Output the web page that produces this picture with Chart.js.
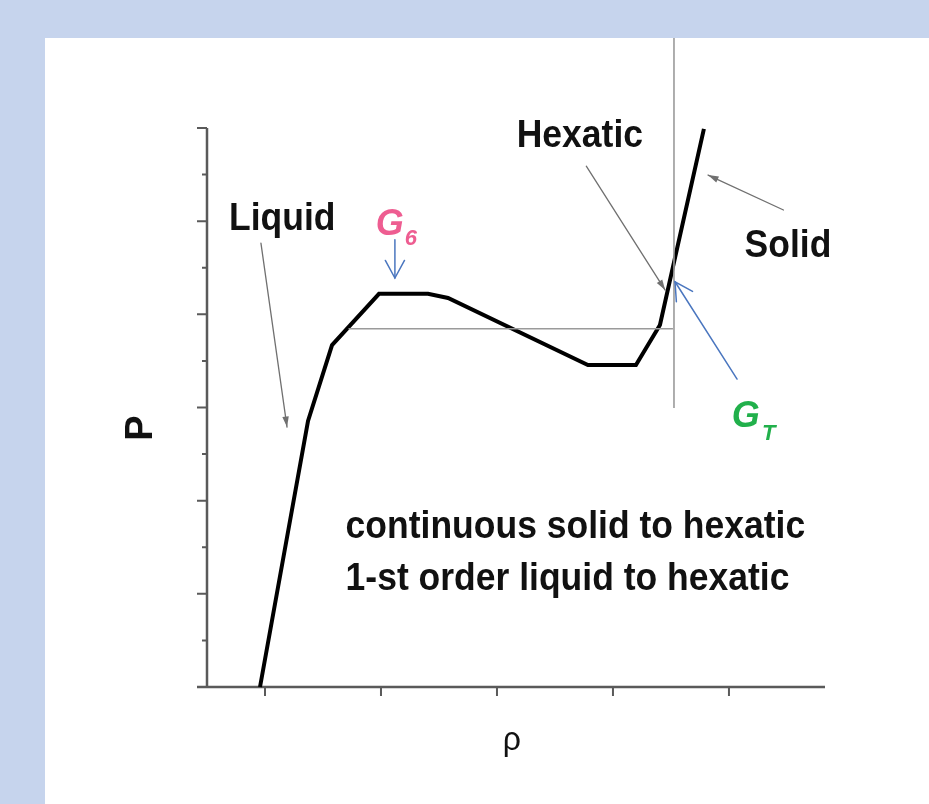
<!DOCTYPE html>
<html>
<head>
<meta charset="utf-8">
<script src="https://cdn.jsdelivr.net/npm/chart.js@4/dist/chart.umd.min.js"></script>
<style>
  html, body { margin: 0; padding: 0; background: #c6d4ed; }
  canvas { display: block; }
</style>
</head>
<body>
<canvas id="c" width="929" height="804"></canvas>
<script>
// Pressure vs density isotherm (arbitrary units)
const rhoValues = [4.57, 8.71, 10.78, 14.83, 19.05, 20.78, 32.84, 36.98, 39.05, 42.84];
const pValues   = [0.00, 5.71, 7.34, 8.44, 8.44, 8.35, 6.91, 6.91, 7.77, 11.98];

// Maxwell-type coexistence line and the transition density marker
const tieRho = [12.2, 40.17];
const tieP   = [7.69, 7.69];
const markRho = [40.26, 40.26];
const markP   = [5.99, 13.93];

// Axis tick values
const rhoTicks = [5, 15, 25, 35, 45];
const pTicks = [0, 1, 2, 3, 4, 5, 6, 7, 8, 9, 10, 11, 12];

const toPts = (xs, ys) => xs.map((x, i) => ({ x: x, y: ys[i] }));

function arrow(ctx, x1, y1, x2, y2, o) {
  const a = Math.atan2(y2 - y1, x2 - x1);
  ctx.save();
  ctx.strokeStyle = o.color;
  ctx.fillStyle = o.color;
  ctx.lineWidth = o.width;
  ctx.lineCap = 'round';
  ctx.beginPath();
  ctx.moveTo(x1, y1);
  ctx.lineTo(x2, y2);
  ctx.stroke();
  const L = o.len, h = o.ang;
  const ax = x2 - L * Math.cos(a - h), ay = y2 - L * Math.sin(a - h);
  const bx = x2 - L * Math.cos(a + h), by = y2 - L * Math.sin(a + h);
  ctx.beginPath();
  if (o.filled) {
    ctx.moveTo(x2, y2); ctx.lineTo(ax, ay); ctx.lineTo(bx, by); ctx.closePath(); ctx.fill();
  } else {
    ctx.moveTo(ax, ay); ctx.lineTo(x2, y2); ctx.lineTo(bx, by); ctx.stroke();
  }
  ctx.restore();
}

function text(ctx, str, x, y, font, color, sy) {
  ctx.save();
  ctx.translate(x, y);
  ctx.scale(1, sy || 1.08);
  ctx.font = font;
  ctx.fillStyle = color;
  ctx.textAlign = 'left';
  ctx.textBaseline = 'alphabetic';
  ctx.fillText(str, 0, 0);
  ctx.restore();
}

const framePlugin = {
  id: 'frame',
  beforeDraw(chart) {
    const ctx = chart.ctx;
    ctx.save();
    ctx.fillStyle = '#c6d4ed';
    ctx.fillRect(0, 0, chart.width, chart.height);
    ctx.fillStyle = '#ffffff';
    ctx.fillRect(45, 38, chart.width - 45, chart.height - 38);
    ctx.restore();
  },
  beforeDatasetsDraw(chart) {
    const ctx = chart.ctx, xs = chart.scales.x, ys = chart.scales.y;
    const x0 = xs.getPixelForValue(0), y0 = ys.getPixelForValue(0);
    const yTop = ys.getPixelForValue(12), xEnd = xs.getPixelForValue(xs.max);
    ctx.save();
    ctx.strokeStyle = '#5a5a5a';
    ctx.lineWidth = 2.5;
    ctx.beginPath();
    ctx.moveTo(x0, yTop); ctx.lineTo(x0, y0);
    ctx.moveTo(x0 - 10, y0); ctx.lineTo(xEnd, y0);
    ctx.stroke();
    ctx.lineWidth = 2;
    ctx.beginPath();
    pTicks.forEach(v => {
      const py = ys.getPixelForValue(v);
      const len = v % 2 === 0 ? 10 : 5;
      ctx.moveTo(x0 - len, py); ctx.lineTo(x0, py);
    });
    rhoTicks.forEach(v => {
      const px = xs.getPixelForValue(v);
      ctx.moveTo(px, y0); ctx.lineTo(px, y0 + 9);
    });
    ctx.stroke();
    ctx.restore();
  },
  afterDatasetsDraw(chart) {
    const ctx = chart.ctx, xs = chart.scales.x, ys = chart.scales.y;
    const X = v => xs.getPixelForValue(v), Y = v => ys.getPixelForValue(v);
    const B = 'bold 35.5px "Liberation Sans", Arial, sans-serif';
    const GI = 'italic bold 36px "Liberation Sans", Arial, sans-serif';
    const SI = 'italic bold 22px "Liberation Sans", Arial, sans-serif';

    // phase labels
    text(ctx, 'Liquid', X(1.9), Y(9.81), B, '#111');
    text(ctx, 'Hexatic', X(26.7), Y(11.59), B, '#111');
    text(ctx, 'Solid', X(46.35), Y(9.23), B, '#111');
    text(ctx, 'continuous solid to hexatic', X(11.95), Y(3.2), B, '#111');
    text(ctx, '1-st order liquid to hexatic', X(11.95), Y(2.08), B, '#111');

    // pointer arrows for the phases
    const grey = { color: '#707070', width: 1.3, len: 11, ang: 0.3, filled: true };
    arrow(ctx, X(4.65), Y(9.53), X(6.9), Y(5.58), grey);
    arrow(ctx, X(32.7), Y(11.18), X(39.5), Y(8.52), grey);
    arrow(ctx, X(49.7), Y(10.24), X(43.2), Y(10.99), grey);

    // G6 marker
    text(ctx, 'G', X(14.55), Y(9.7), GI, '#ee5d91', 1.0);
    text(ctx, '6', X(17.05), Y(9.49), SI, '#ee5d91', 1.0);
    const blue = { color: '#4a76bf', width: 1.5, len: 20, ang: 0.5, filled: false };
    arrow(ctx, X(16.2), Y(9.6), X(16.2), Y(8.78), blue);

    // GT marker
    text(ctx, 'G', X(45.25), Y(5.58), GI, '#21b04b', 1.0);
    text(ctx, 'T', X(47.85), Y(5.3), SI, '#21b04b', 1.0);
    arrow(ctx, X(45.7), Y(6.61), X(40.35), Y(8.7), blue);

    // axis titles
    ctx.save();
    ctx.translate(152, 428);
    ctx.rotate(-Math.PI / 2);
    ctx.font = 'bold 38px "Liberation Sans", Arial, sans-serif';
    ctx.fillStyle = '#111';
    ctx.textAlign = 'center';
    ctx.textBaseline = 'alphabetic';
    ctx.fillText('P', 0, 0);
    ctx.restore();
    text(ctx, 'ρ', X(25.5), Y(-1.35), '32px "Liberation Sans", Arial, sans-serif', '#111', 1.05);
  }
};

new Chart(document.getElementById('c'), {
  type: 'scatter',
  data: {
    datasets: [
      { data: toPts(tieRho, tieP), showLine: true, borderColor: '#9a9a9a', borderWidth: 1.6, pointRadius: 0, clip: false },
      { data: toPts(markRho, markP), showLine: true, borderColor: '#9a9a9a', borderWidth: 1.6, pointRadius: 0, clip: false },
      { data: toPts(rhoValues, pValues), showLine: true, borderColor: '#000000', borderWidth: 4, pointRadius: 0, clip: false, borderJoinStyle: 'miter' }
    ]
  },
  options: {
    responsive: false,
    devicePixelRatio: 1,
    animation: false,
    layout: { padding: { left: 207, top: 128, right: 104, bottom: 117 } },
    scales: {
      x: { type: 'linear', min: 0, max: 53.28, display: false },
      y: { type: 'linear', min: 0, max: 12, display: false }
    },
    plugins: { legend: { display: false }, tooltip: { enabled: false } }
  },
  plugins: [framePlugin]
});
</script>
</body>
</html>
